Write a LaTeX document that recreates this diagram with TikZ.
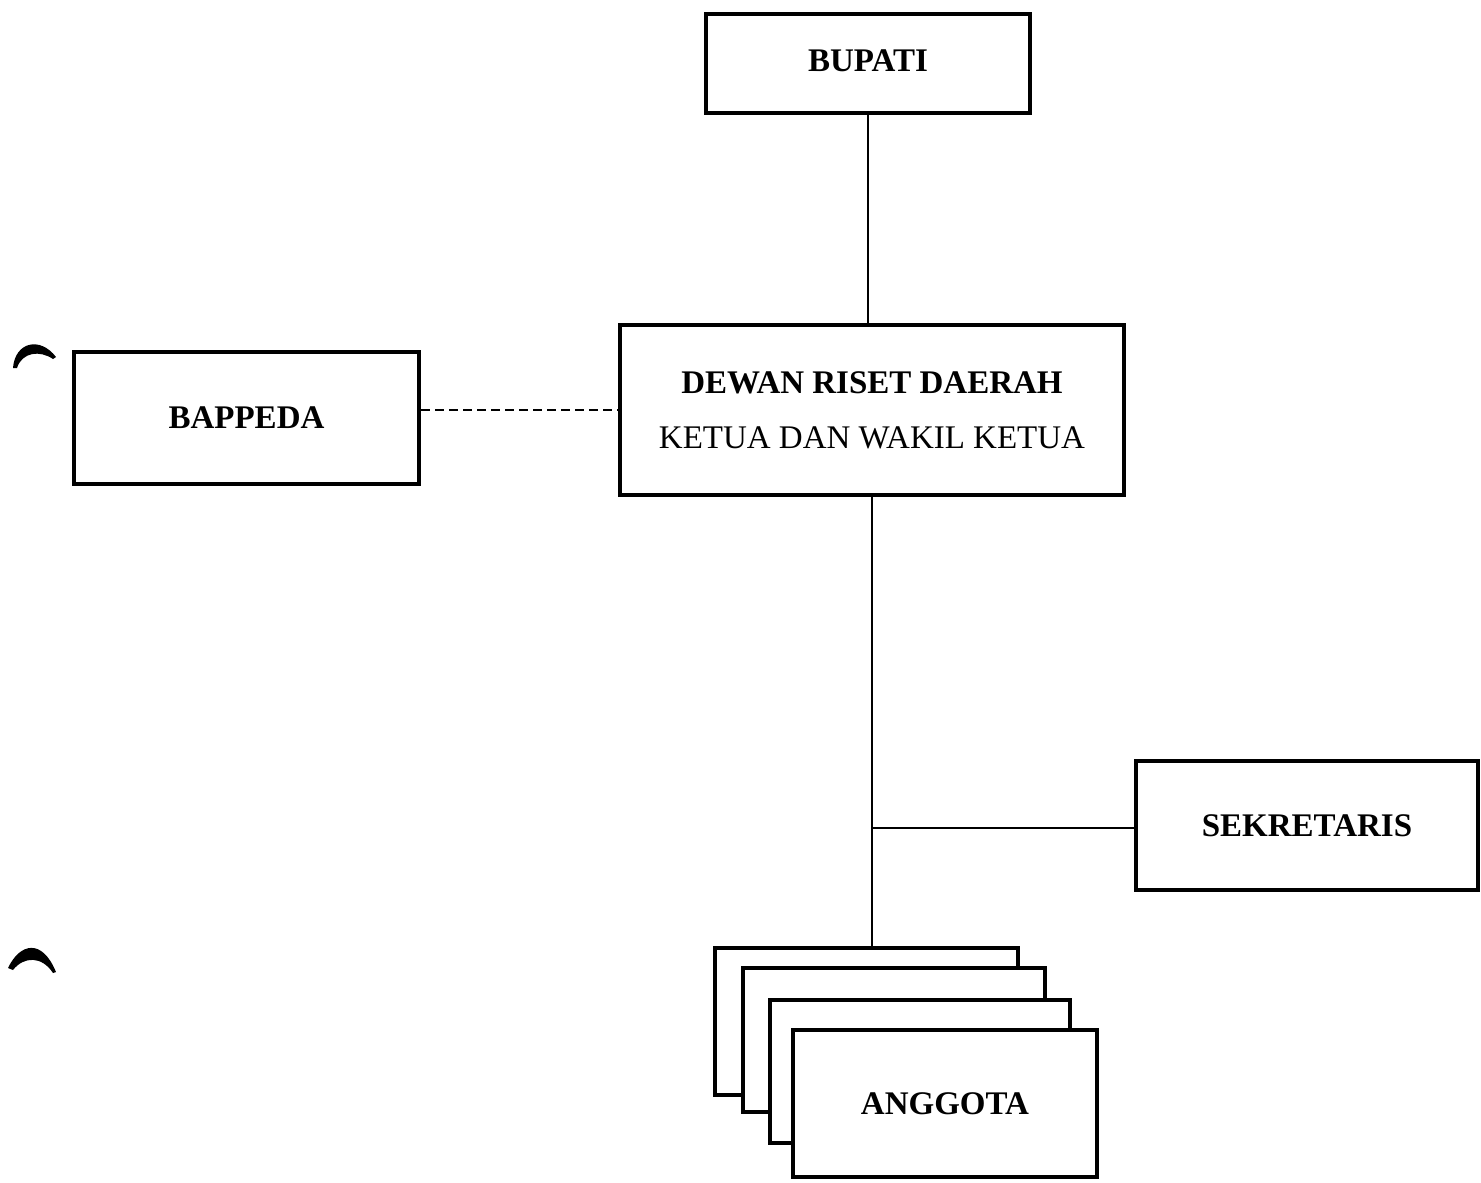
\documentclass[tikz,border=0pt]{standalone}
\usepackage{fontspec}
\setmainfont{Liberation Serif}
\begin{document}
\begin{tikzpicture}[x=1pt,y=-1pt,
  box/.style={draw, line width=4.2pt, fill=white, inner sep=0pt, font=\fontsize{33}{38}\selectfont\bfseries},
  conn/.style={line width=2.2pt},
  dconn/.style={line width=2.2pt, dash pattern=on 9pt off 5pt}]
\useasboundingbox (0,0) rectangle (1481,1183);
\fill[white] (0,0) rectangle (1481,1183);
% boxes
\node[box, minimum width=324, minimum height=99, text depth=6pt] (bupati) at (868,63.5) {BUPATI};
\node[box, minimum width=504, minimum height=170, align=center, font=\fontsize{33}{38}\selectfont] (dewan) at (872,410)
  {\raisebox{-4pt}{\bfseries DEWAN RISET DAERAH}\\[17pt]\raisebox{-4pt}{KETUA DAN WAKIL KETUA}};
\node[box, minimum width=345, minimum height=132] (bappeda) at (246.5,418) {\raisebox{-3pt}{BAPPEDA}};
\node[box, minimum width=342, minimum height=129] (sek) at (1307,825.5) {\raisebox{-2pt}{SEKRETARIS}};
\node[box, minimum width=303, minimum height=147] (a1) at (866.5,1021.5) {};
\node[box, minimum width=302, minimum height=144] (a2) at (894,1040) {};
\node[box, minimum width=300, minimum height=143] (a3) at (920,1071.5) {};
\node[box, minimum width=304, minimum height=147] (a4) at (945,1103.5) {ANGGOTA};
% connectors
\draw[conn] (bupati.south) -- (bupati.south |- dewan.north);
\draw[conn] (dewan.south) -- (dewan.south |- a1.north);
\coordinate (junc) at (872,828);
\coordinate (sekin) at (sek.west |- junc);
\draw[conn] (junc) -- (sekin);
\coordinate (dwest) at (dewan.west |- 0,410);
\coordinate (beast) at (bappeda.east |- dwest);
\draw[dconn] (beast) -- (dwest);
% binder marks
\fill (13,368) .. controls (15,342) and (40,336) .. (56,357) -- (53,359)
  .. controls (40,350) and (22,352) .. (17,368) -- cycle;
\fill (8,968) .. controls (20,943) and (42,938) .. (56,972) -- (53,973)
  .. controls (42,956) and (24,956) .. (13,970) -- cycle;
\end{tikzpicture}
\end{document}
